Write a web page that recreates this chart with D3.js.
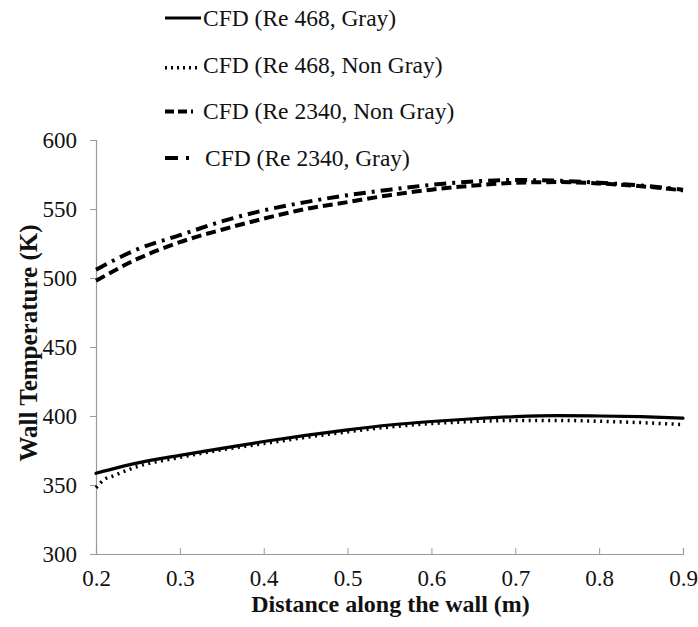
<!DOCTYPE html>
<html>
<head>
<meta charset="utf-8">
<script src="https://cdn.jsdelivr.net/npm/d3@7"></script>
<style>
  body { margin: 0; background: #fff; }
  text { font-family: "Liberation Serif", "Times New Roman", serif; fill: #111; }
</style>
</head>
<body>
<div id="chart"></div>
<script>
// data
var xTicks = [0.2, 0.3, 0.4, 0.5, 0.6, 0.7, 0.8, 0.9];
var yTicks = [300, 350, 400, 450, 500, 550, 600];

var xs = [0.2, 0.25, 0.3, 0.35, 0.4, 0.45, 0.5, 0.55, 0.6, 0.65, 0.7, 0.75, 0.8, 0.85, 0.9];
var re468Gray = [358.5, 366, 371.5, 376.5, 381.5, 386, 390, 393.5, 396, 398, 399.5, 400.2, 400, 399.5, 398.5];
var re2340NonGray = [498, 514, 526, 535, 543, 550, 555, 560, 564, 567, 569, 569.5, 568.5, 566.5, 563.5];
var re2340Gray = [506, 521, 531, 541, 549, 555, 560, 564, 567.5, 570, 571, 570.5, 569, 567, 564];

var xsNonGray468 = [0.2, 0.21, 0.22, 0.25, 0.3, 0.35, 0.4, 0.45, 0.5, 0.55, 0.6, 0.65, 0.7, 0.75, 0.8, 0.85, 0.9];
var re468NonGray = [348, 354, 356.5, 363.5, 370, 375.5, 380, 384.5, 388.5, 392, 394.5, 396, 396.8, 396.8, 396.2, 395.2, 393.8];

var seriesNames = ["CFD (Re 468, Gray)", "CFD (Re 468, Non Gray)", "CFD (Re 2340, Non Gray)", "CFD (Re 2340, Gray)"];

var series = [
  { name: seriesNames[0], x: xs, y: re468Gray, dash: null, width: 3.2, legDash: null, legLen: 36 },
  { name: seriesNames[1], x: xsNonGray468, y: re468NonGray, dash: "2,4.5", width: 3.5, legDash: "2,4", legLen: 36 },
  { name: seriesNames[2], x: xs, y: re2340NonGray, dash: "10,5", width: 4, legDash: "9,4,9,4,2", legLen: 36 },
  { name: seriesNames[3], x: xs, y: re2340Gray, dash: "12,6,3,6", width: 4, legDash: "13,8,3,20", legLen: 24 }
];

var svgWidth = 698, svgHeight = 627;
var margin = { top: 140, right: 15, bottom: 73, left: 96 };
var width = svgWidth - margin.left - margin.right;
var height = svgHeight - margin.top - margin.bottom;

var svg = d3.select("#chart").append("svg")
  .attr("width", svgWidth)
  .attr("height", svgHeight);

var g = svg.append("g")
  .attr("transform", `translate(${margin.left}, ${margin.top})`);

var x = d3.scaleLinear().domain([0.2, 0.9]).range([0, width]);
var y = d3.scaleLinear().domain([300, 600]).range([height, 0]);

// y axis
var leftAxis = d3.axisLeft(y).tickValues(yTicks).tickFormat(d3.format("d")).tickSizeOuter(0).tickSize(6);
var yAxisG = g.append("g").call(leftAxis).attr("font-family", null);
yAxisG.select(".domain").attr("stroke", "#999").attr("stroke-width", 1.2);
yAxisG.selectAll(".tick line").attr("stroke", "#999");
yAxisG.selectAll(".tick text")
  .style("font-size", "23px")
  .attr("fill", "#222")
  .attr("x", -19)
  .attr("dy", "0.34em");

// x axis (ticks point up into the plot)
var bottomAxis = d3.axisBottom(x).tickValues(xTicks).tickFormat(d3.format(".1f")).tickSizeOuter(0).tickSize(-6);
var xAxisG = g.append("g").attr("transform", `translate(0, ${height})`).call(bottomAxis).attr("font-family", null);
xAxisG.select(".domain").attr("stroke", "#999").attr("stroke-width", 1.2);
xAxisG.selectAll(".tick line").attr("stroke", "#999");
xAxisG.selectAll(".tick text")
  .style("font-size", "23px")
  .attr("fill", "#222")
  .attr("y", 32)
  .attr("dy", 0);

// curves
var line = d3.line()
  .x(d => x(d[0]))
  .y(d => y(d[1]))
  .curve(d3.curveMonotoneX);

series.forEach(function(s) {
  var pts = s.x.map((v, i) => [v, s.y[i]]);
  g.append("path")
    .datum(pts)
    .attr("d", line)
    .attr("fill", "none")
    .attr("stroke", "#000")
    .attr("stroke-width", s.width)
    .attr("stroke-dasharray", s.dash)
    .attr("stroke-linecap", s.dash ? "butt" : "round");
});

// axis titles
svg.append("text")
  .attr("x", margin.left + width / 2 + 1)
  .attr("y", 612)
  .attr("text-anchor", "middle")
  .style("font-size", "24px")
  .style("font-weight", "bold")
  .text("Distance along the wall (m)");

svg.append("text")
  .attr("transform", `translate(37, ${margin.top + height / 2 - 4}) rotate(-90)`)
  .attr("text-anchor", "middle")
  .style("font-size", "25px")
  .style("font-weight", "bold")
  .text("Wall Temperature (K)");

// legend
var legend = svg.append("g").attr("transform", "translate(165, 18)");
var rowGap = 46.7;
series.forEach(function(s, i) {
  var row = legend.append("g").attr("transform", `translate(0, ${i * rowGap})`);
  row.append("line")
    .attr("x1", 0).attr("x2", s.legLen)
    .attr("y1", i === 1 ? 3 : 0).attr("y2", i === 1 ? 3 : 0)
    .attr("stroke", "#000")
    .attr("stroke-width", s.width)
    .attr("stroke-dasharray", s.legDash);
  row.append("text")
    .attr("x", i === 3 ? 40 : 38)
    .attr("y", 8)
    .style("font-size", "23.5px")
    .text(s.name);
});
</script>
</body>
</html>
